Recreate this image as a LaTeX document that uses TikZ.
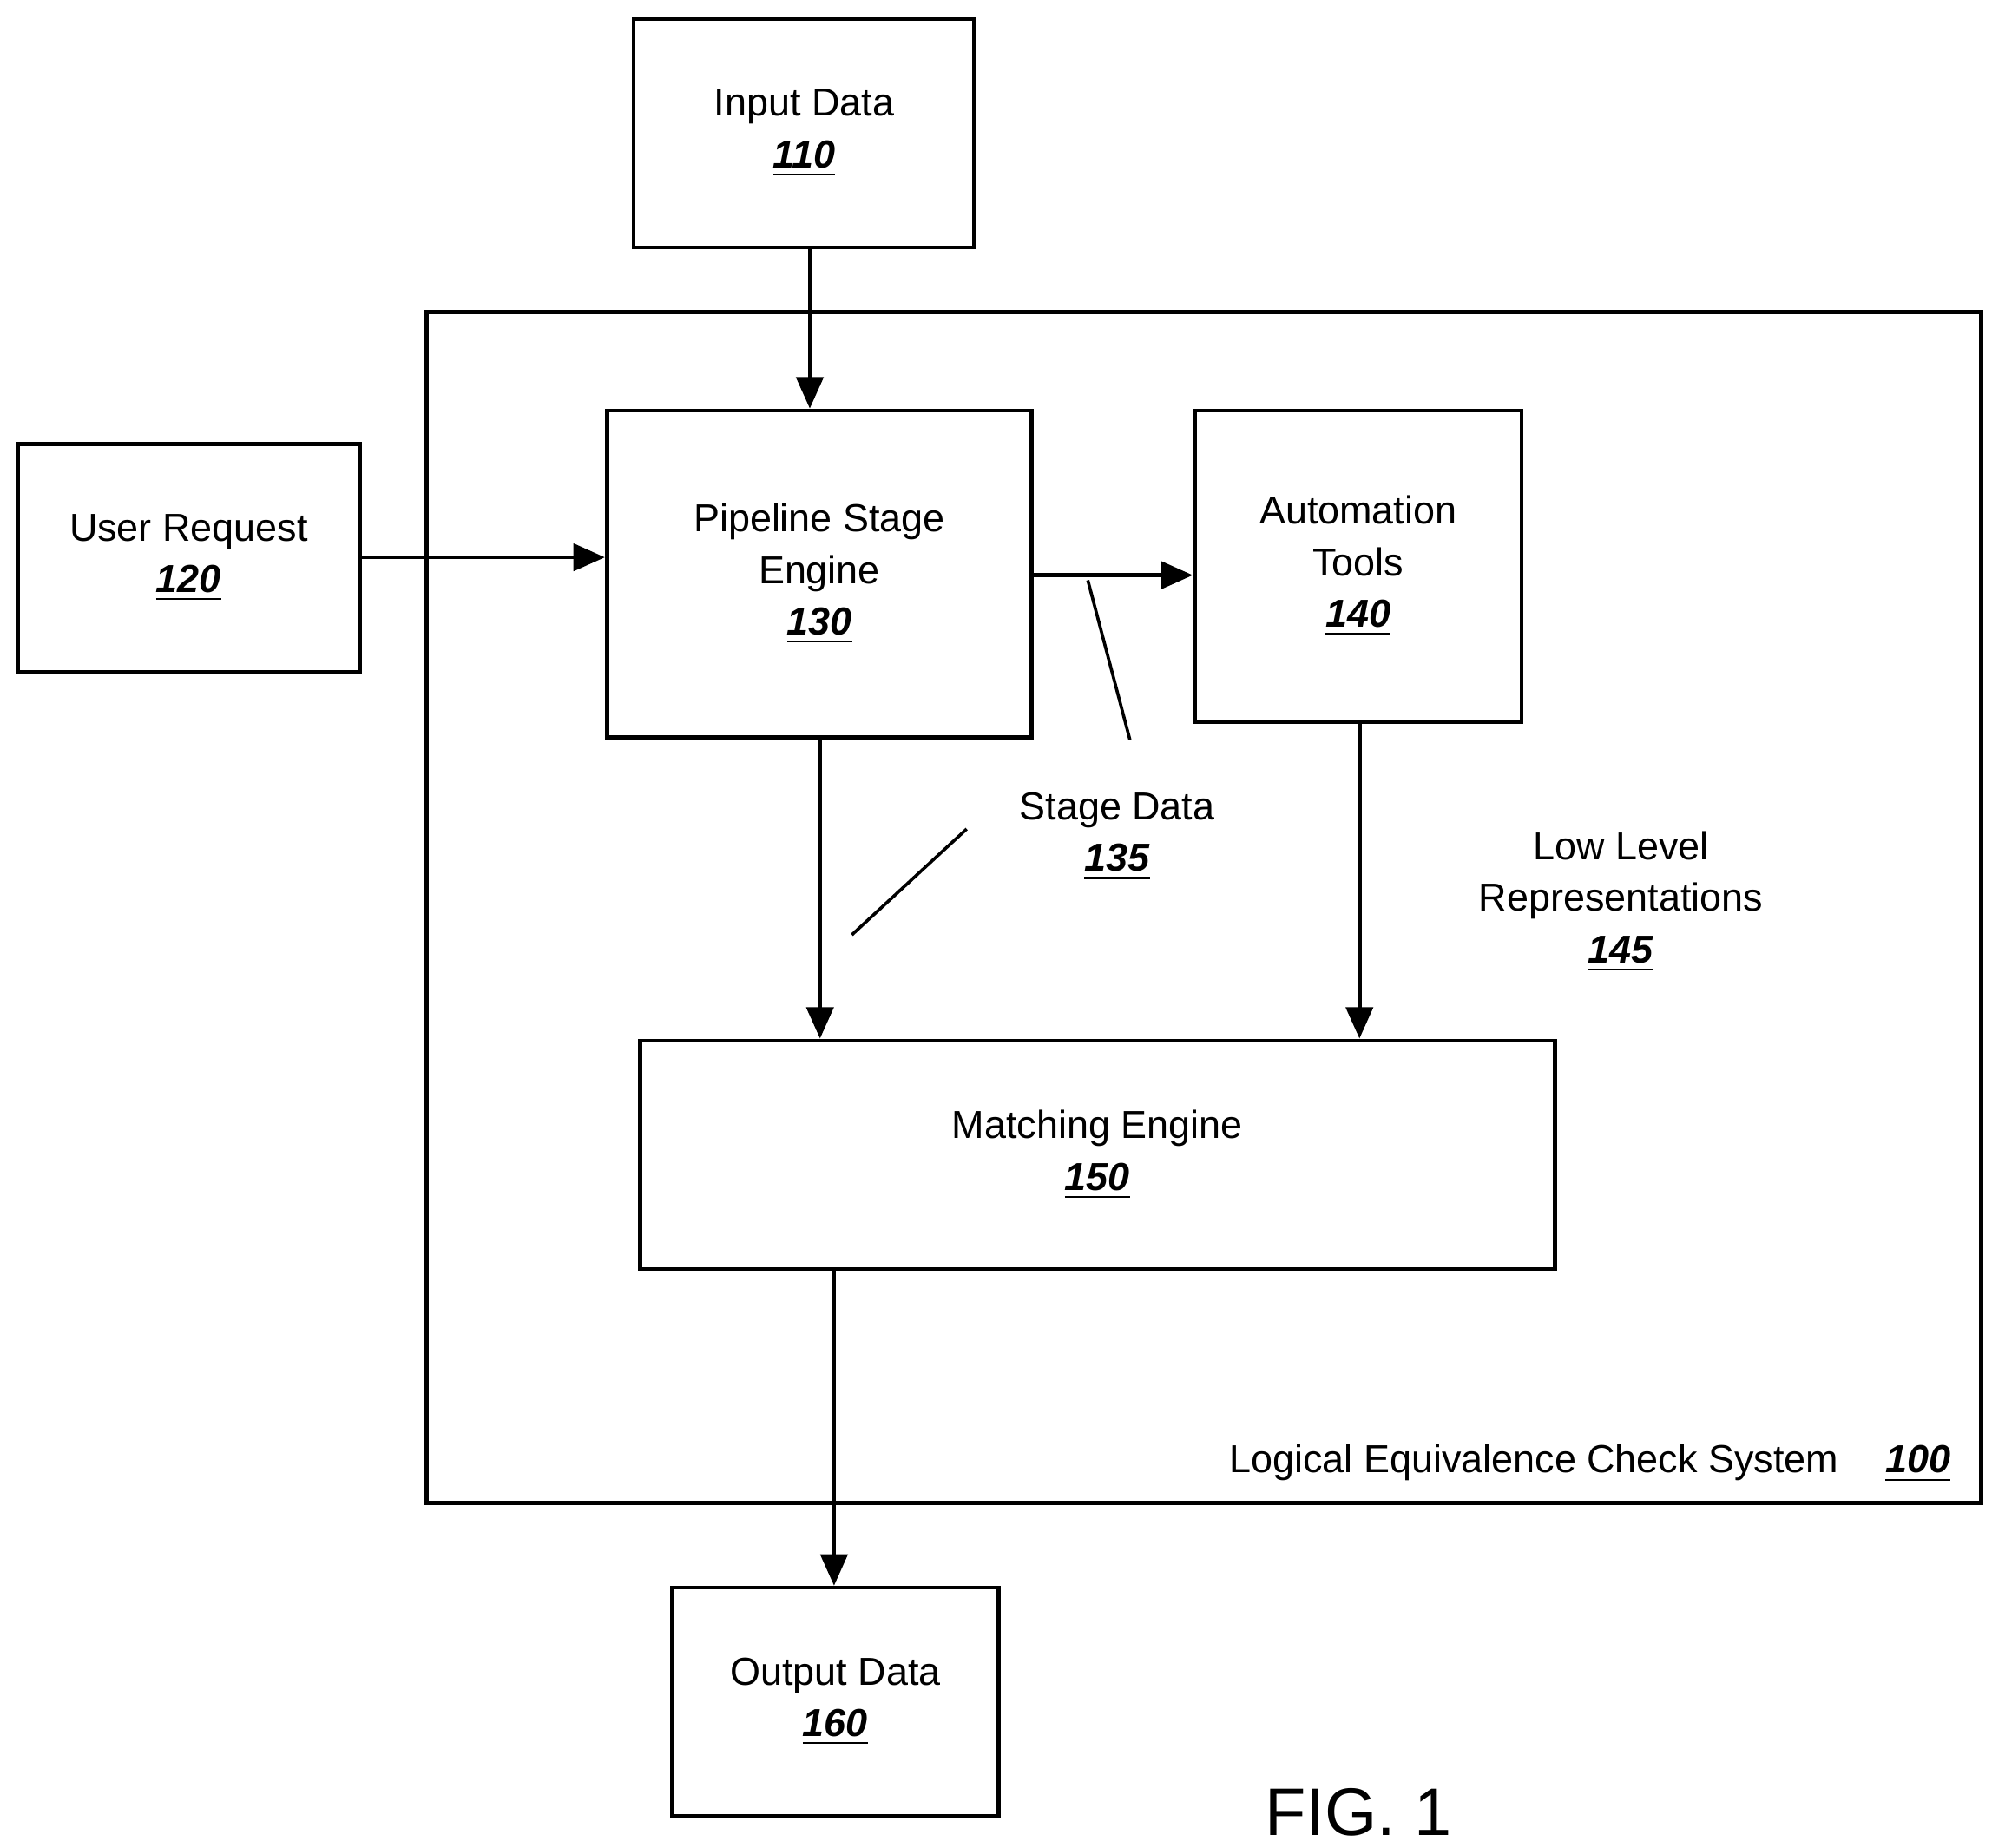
\documentclass[tikz,border=0pt]{standalone}
\usepackage{fontspec}
\setmainfont{Liberation Sans}
\usetikzlibrary{arrows.meta,positioning,calc}
\newcommand{\refnum}[1]{\underline{\textbf{\textit{#1}}}}
\tikzset{
  block/.style={draw, line width=0.9pt, align=center, inner sep=0pt},
  flow/.style={-{Triangle[length=7pt,width=6pt]}, line width=0.9pt},
  lead/.style={line width=0.7pt},
  every node/.style={font=\fontsize{8.7}{11.5}\selectfont}
}
\begin{document}
\begin{tikzpicture}[x=0.01cm,y=-0.01cm]
            \useasboundingbox (0,0) rectangle (1562,1449);
            % System frame
            \node[block, minimum width=12.18cm, minimum height=9.33cm] (sys) at (944,711.5) {};
            \node[anchor=base east] (syslabel) at (1542,1155) {Logical Equivalence Check System\hspace{1.2em}\refnum{100}};
            
            % Outer blocks
            \node[block, minimum width=2.67cm, minimum height=1.79cm] (input) at (630.5,104.5) {Input Data\\\refnum{110}};
            \node[block, minimum width=2.68cm, minimum height=1.79cm] (user) at (148,437.5) {User Request\\\refnum{120}};
            \node[block, minimum width=2.56cm, minimum height=1.79cm] (output) at (655,1334.5) {Output Data\\\refnum{160}};
            
            % Inner blocks
            \node[block, minimum width=3.33cm, minimum height=2.56cm] (pipe) at (642.5,450) {Pipeline Stage\\Engine\\\refnum{130}};
            \node[block, minimum width=2.56cm, minimum height=2.44cm] (auto) at (1065,444) {Automation\\Tools\\\refnum{140}};
            \node[block, minimum width=7.17cm, minimum height=1.79cm] (match) at (860.5,905.5) {Matching Engine\\\refnum{150}};
            
            % Connectors
            \draw[flow] (input.south -| 635,0) -- (pipe.north -| 635,0);
            \draw[flow] (user.east |- 0,437) -- (pipe.west |- 0,437);
            \draw[flow] (pipe.east |- 0,451) -- (auto.west |- 0,451);
            \draw[flow] (pipe.south -| 643,0) -- (match.north -| 643,0);
            \draw[flow] (auto.south -| 1066,0) -- (match.north -| 1066,0);
            \draw[flow] (match.south -| 654,0) -- (output.north -| 654,0);
            
            % Labels
            \node[align=center] (stage) at (876,656) {Stage Data\\\refnum{135}};
            \coordinate (stageA) at (853,455);
            \coordinate (stageB) at (886,580);
            \coordinate (stageC) at (758,650);
            \coordinate (stageD) at (668,733);
            \draw[lead] (stageA) -- (stageB);
            \draw[lead] (stageC) -- (stageD);
            \node[align=center] (low) at (1271,707) {Low Level\\Representations\\\refnum{145}};
            \node[font=\fontsize{15}{18}\selectfont] (fig) at (1065,1421) {FIG. 1};
\end{tikzpicture}
\end{document}
